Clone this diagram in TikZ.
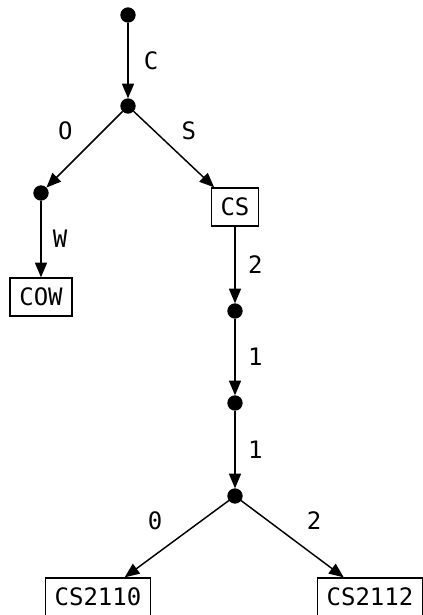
\documentclass[tikz,border=0pt]{standalone}
\usepackage{fontspec}
\setmonofont{DejaVu Sans Mono}
\usepackage{tikz}
\usetikzlibrary{arrows.meta, positioning}

\begin{document}
\begin{tikzpicture}[x=0.75pt,y=-0.75pt,
	dot/.style={circle, fill=black, inner sep=0pt, outer sep=0pt, minimum size=11.5pt},
	word/.style={draw, line width=1pt, font=\ttfamily\fontsize{18}{20}\selectfont, minimum height=28.5pt, inner xsep=7pt},
	lbl/.style={font=\ttfamily\fontsize{18}{20}\selectfont},
	edge/.style={line width=1.1pt, -{Triangle[length=11pt,width=9pt]}}]
\useasboundingbox (0,0) rectangle (422,615);
% trie nodes
\node[dot] (root) at (128,15) {};
\node[dot] (c) at (128,106) {};
\node[dot] (co) at (41,193) {};
\node[word] (cow) at (41,297) {COW};
\node[word] (cs) at (235,207) {CS};
\node[dot] (cs2) at (235,311) {};
\node[dot] (cs21) at (235,403) {};
\node[dot] (cs211) at (235,496) {};
\node[word] (cs2110) at (98,597) {CS2110};
\node[word] (cs2112) at (370,597) {CS2112};

% edges
\draw[edge] (root) -- node[lbl, right=8pt] {C} (c);
\draw[edge] (c) -- node[lbl, above left=3pt and 5pt] {O} (co);
\draw[edge] (c) -- node[lbl, above right=3pt and 2pt] {S} (cs);
\draw[edge] (co) -- node[lbl, right=5pt] {W} (cow);
\draw[edge] (cs) -- node[lbl, right=6pt] {2} (cs2);
\draw[edge] (cs2) -- node[lbl, right=6pt] {1} (cs21);
\draw[edge] (cs21) -- node[lbl, right=6pt] {1} (cs211);
\draw[edge] (cs211) -- node[lbl, above left=3pt and 7pt] {0} (cs2110);
\draw[edge] (cs211) -- node[lbl, above right=3pt and 7pt] {2} (cs2112);
\end{tikzpicture}
\end{document}
